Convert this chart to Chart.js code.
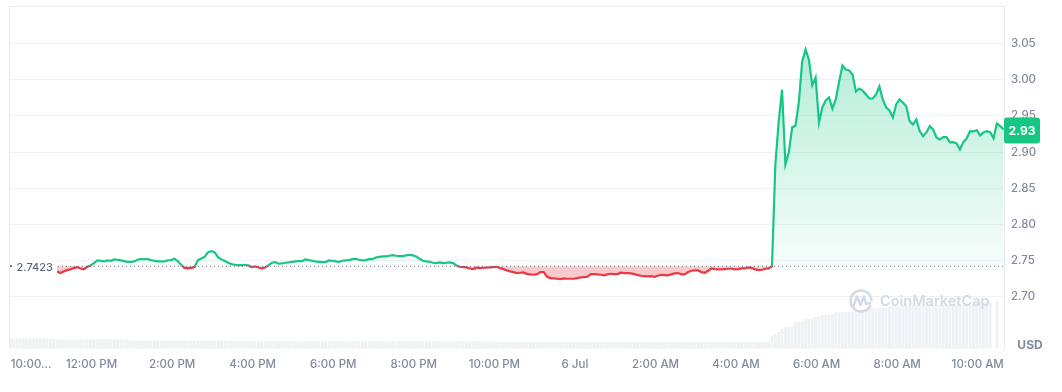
<!DOCTYPE html>
<html>
<head>
<meta charset="utf-8">
<style>html,body{margin:0;padding:0;background:#fff}#wrap{width:1062px;height:392px;position:relative}</style>
<script src="https://cdn.jsdelivr.net/npm/chart.js@4"></script>
</head>
<body>
<div id="wrap"><canvas id="c" width="1062" height="392"></canvas></div>
<script>
const tickMinutes = [30,120,240,360,480,600,720,840,960,1080,1200,1320,1440];
const tickLabels = ["10:00...","12:00 PM","2:00 PM","4:00 PM","6:00 PM","8:00 PM","10:00 PM","6 Jul","2:00 AM","4:00 AM","6:00 AM","8:00 AM","10:00 AM"];
const priceTicks = [2.70,2.75,2.80,2.85,2.90,2.95,3.00,3.05];
const baselinePrice = 2.7423;
const latestPrice = 2.93;
const priceStartMinute = 70;
const stepMinutes = 5;
const priceValues = [
2.7353,2.7330,2.7353,2.7371,2.7381,2.7399,2.7413,2.7394,2.7381,2.7417,
2.7436,2.7468,2.7505,2.7500,2.7491,2.7505,2.7500,2.7519,2.7514,2.7505,
2.7496,2.7486,2.7486,2.7491,2.7514,2.7523,2.7523,2.7523,2.7509,2.7500,
2.7491,2.7491,2.7491,2.7505,2.7509,2.7528,2.7491,2.7445,2.7399,2.7399,
2.7399,2.7417,2.7509,2.7532,2.7555,2.7620,2.7634,2.7615,2.7546,2.7519,
2.7496,2.7473,2.7454,2.7445,2.7440,2.7440,2.7445,2.7436,2.7413,2.7422,
2.7408,2.7394,
2.7408,2.7436,2.7473,2.7482,2.7459,2.7463,2.7473,2.7477,2.7486,2.7491,
2.7496,2.7496,2.7519,2.7509,2.7500,2.7491,2.7486,2.7482,2.7482,2.7505,
2.7500,2.7491,2.7486,2.7500,2.7505,2.7509,2.7523,2.7528,2.7514,2.7505,
2.7509,2.7523,2.7523,2.7546,2.7555,2.7560,2.7560,2.7569,2.7578,2.7569,
2.7565,2.7565,2.7574,2.7583,2.7574,2.7560,2.7528,2.7500,2.7491,2.7486,
2.7473,2.7468,2.7477,2.7468,2.7473,2.7477,2.7468,2.7436,2.7417,2.7413,
2.7408,2.7394,2.7385,2.7404,2.7399,2.7404,2.7404,2.7408,2.7413,2.7417,
2.7399,2.7385,2.7367,2.7353,2.7344,2.7330,2.7335,2.7339,2.7316,2.7312,
2.7307,2.7316,2.7344,2.7344,2.7279,2.7261,2.7256,2.7252,2.7247,2.7256,
2.7252,2.7252,2.7252,2.7261,2.7270,2.7275,2.7279,2.7316,2.7316,2.7312,
2.7307,2.7298,2.7312,2.7321,2.7316,2.7316,2.7335,2.7330,2.7330,2.7325,
2.7316,2.7302,2.7293,2.7289,2.7284,2.7289,2.7279,2.7293,2.7307,2.7302,
2.7298,2.7312,2.7325,2.7330,2.7312,2.7312,2.7344,2.7362,2.7367,2.7367,
2.7344,2.7335,2.7362,2.7394,2.7385,2.7381,2.7381,2.7385,2.7390,2.7390,
2.7381,2.7385,2.7394,2.7394,2.7408,2.7399,2.7381,2.7371,2.7376,2.7390,2.7394,
2.7425,2.8830,2.9424,2.9865,2.8830,2.8996,2.9340,2.9368,2.9686,3.0252,
3.0417,3.0279,2.9925,3.0031,2.9410,2.9617,2.9713,2.9755,2.9603,2.9727,
2.9976,3.0196,3.0141,3.0127,3.0072,2.9838,2.9879,2.9851,2.9796,2.9741,
2.9741,2.9796,2.9907,2.9727,2.9617,2.9575,
2.9479,2.9658,2.9727,2.9686,2.9635,2.9428,2.9382,2.9451,2.9290,2.9221,
2.9272,2.9359,2.9313,2.9203,2.9175,2.9207,2.9207,2.9134,2.9138,2.9120,
2.9037,2.9138,2.9189,2.9290,2.9286,2.9304,2.9230,2.9272,2.9290,2.9276,
2.9193,2.9396,2.9359,2.9313
];
const volumeValues = [
10.4,10.4,10.5,10.4,10.4,10.3,10.4,10.4,10.4,10.3,10.4,10.4,10.3,10.3,
9.5,9.5,9.4,9.4,9.5,9.4,9.4,9.4,9.5,9.4,9.4,9.4,9.3,9.4,9.4,9.4,9.3,9.4,9.4,9.3,9.3,9.3,
8.3,8.3,8.2,8.2,8.3,8.2,8.2,8.2,8.3,8.2,8.2,8.2,8.2,8.1,8.2,8.2,8.2,8.2,8.1,8.2,8.2,8.2,8.1,8.1,8.2,8.1,8.1,8.1,8.1,8.1,8.1,
7.5,7.5,7.5,7.4,7.5,7.4,7.4,7.5,7.4,7.4,7.4,7.4,7.5,7.4,7.4,7.4,7.4,7.4,7.4,7.5,7.4,7.4,7.4,7.4,7.4,7.4,7.3,7.4,7.4,7.4,7.4,7.4,7.4,7.3,7.4,7.4,7.4,7.4,7.3,7.4,7.4,7.4,7.3,7.4,7.4,7.3,7.4,7.4,7.3,7.4,7.4,7.4,7.3,7.3,7.4,7.4,7.3,7.3,7.4,7.3,7.3,7.4,7.3,7.3,7.3,7.3,7.3,7.3,7.3,7.3,7.3,7.2,7.3,7.3,7.2,7.2,7.3,7.2,7.2,
6.9,6.9,6.9,6.8,6.9,6.8,6.8,6.9,6.8,6.8,6.8,6.8,6.9,6.8,6.8,6.8,6.8,6.8,6.8,6.9,6.8,6.8,6.8,6.8,6.8,6.8,6.7,6.8,6.8,6.8,6.8,6.8,6.8,6.7,6.8,6.8,6.8,6.8,6.7,6.8,6.8,6.8,6.7,6.8,6.8,6.7,6.8,6.8,6.7,6.8,6.8,6.8,6.7,6.7,6.8,6.8,6.7,6.7,6.8,6.7,6.7,6.8,6.7,6.7,6.7,6.7,6.7,6.7,6.7,6.7,6.7,6.6,6.7,6.7,6.6,6.6,6.7,6.6,6.6,6.7,7.0,
12.7,14,17,20,22,22,23,26,27,28,29.7,30,30.4,31.4,33,33.7,34,34.3,34.7,36.4,36.5,36.7,37,37.2,37.5,38,38.5,39.4,39.8,40.2,40.5,40.7,41,41.2,41.5,41.9,42.3,42.7,
42.8,42.9,42.9,43,43.1,43.2,43.2,43.3,
43.5,43.5,43.6,43.7,43.8,43.8,43.9,44,
44,44,44.1,44.1,44.2,44.2,
45,46,46,46.5,47,47,
0,48
];
const GREEN = '#16c784', RED = '#ea3943', GRID = '#eff2f5', BAR = '#eff2f5', TICK = '#808a9d';
const FONT = 'Inter, "Noto Sans", sans-serif';

const priceData = priceValues.map((v,i)=>({x:priceStartMinute+i*stepMinutes,y:v}));
const volumeData = volumeValues.map((v,i)=>({x:i*stepMinutes,y:v}));

function strokeGrad(ctx){
  const c = ctx.chart, a = c.chartArea;
  if(!a) return GREEN;
  const p = c.scales.y.getPixelForValue(baselinePrice);
  const g = c.ctx.createLinearGradient(0,a.top,0,a.bottom);
  const t = (p-a.top)/(a.bottom-a.top);
  g.addColorStop(0,GREEN); g.addColorStop(t,GREEN); g.addColorStop(t,RED); g.addColorStop(1,RED);
  return g;
}
function aboveGrad(ctx){
  const c = ctx.chart, a = c.chartArea;
  if(!a) return 'rgba(22,199,132,.2)';
  const s = c.scales.y;
  const g = c.ctx.createLinearGradient(0,s.getPixelForValue(3.0417),0,s.getPixelForValue(baselinePrice));
  g.addColorStop(0,'rgba(22,199,132,.32)');
  g.addColorStop(1,'rgba(22,199,132,.03)');
  return g;
}

const decor = {
  id:'decor',
  beforeDraw(chart){
    const {ctx,chartArea:a} = chart;
    ctx.save();
    ctx.strokeStyle = '#e8eaee'; ctx.lineWidth = 1;
    ctx.beginPath();
    ctx.moveTo(Math.round(a.left)-.5,a.bottom); ctx.lineTo(Math.round(a.left)-.5,Math.round(a.top)+.5);
    ctx.lineTo(Math.round(a.right)+.5,Math.round(a.top)+.5); ctx.lineTo(Math.round(a.right)+.5,a.bottom);
    ctx.stroke();
    ctx.restore();
  },
  afterDatasetsDraw(chart){
    const {ctx,chartArea:a,scales:{y}} = chart;
    ctx.save();
    // watermark
    ctx.strokeStyle = '#d3d9e5'; ctx.lineWidth = 2.4; ctx.lineJoin='round'; ctx.lineCap='round';
    ctx.beginPath(); ctx.arc(861,301,10.5,0.15*Math.PI,1.98*Math.PI); ctx.stroke();
    ctx.beginPath(); ctx.moveTo(853.5,306); ctx.lineTo(857,296.5); ctx.lineTo(860.5,305); ctx.lineTo(864,296.5); ctx.lineTo(866,304); ctx.lineTo(870,303); ctx.stroke();
    ctx.fillStyle = '#d3d9e5'; ctx.font = '600 14.5px '+FONT; ctx.textAlign='left'; ctx.textBaseline='middle';
    ctx.fillText('CoinMarketCap',880,301.5);
    // baseline label
    const by = y.getPixelForValue(baselinePrice);
    ctx.fillStyle = '#fff'; ctx.fillRect(a.left+1,by-7.5,a.left+36,15);
    ctx.fillStyle = '#58667e'; ctx.font = '500 11px '+FONT; ctx.textAlign='left';
    ctx.fillText(baselinePrice.toFixed(4),16.5,by+1.5);
    ctx.fillStyle = '#3d5a60'; ctx.fillRect(10,by-1,2,1.5);
    // price tag
    const py = y.getPixelForValue(latestPrice);
    ctx.fillStyle = GREEN;
    ctx.beginPath(); ctx.roundRect(1004,py-13,36,26,3); ctx.fill();
    ctx.fillStyle = '#fff'; ctx.font = '700 12px '+FONT; ctx.textAlign='center';
    ctx.fillText(latestPrice.toFixed(2),1022,py+.5);
    // unit
    ctx.fillStyle = TICK; ctx.font = '700 12px '+FONT;
    ctx.fillText('USD',1030,345.5);
    ctx.restore();
  }
};

new Chart(document.getElementById('c'),{
  data:{datasets:[
    {type:'line',order:1,data:[{x:0,y:baselinePrice},{x:1480,y:baselinePrice}],borderColor:'#6b7688',borderWidth:1,borderDash:[1,3],pointRadius:0,fill:false,yAxisID:'y'},
    {type:'line',order:2,data:priceData,borderWidth:2.2,borderColor:strokeGrad,tension:0,pointRadius:0,yAxisID:'y',
      fill:{target:{value:baselinePrice},above:aboveGrad,below:'rgba(234,57,67,.27)'}},
    {type:'bar',order:3,data:volumeData,backgroundColor:BAR,barPercentage:.86,categoryPercentage:1,yAxisID:'v'}
  ]},
  options:{
    responsive:false,animation:false,
    layout:{padding:{left:10,top:6,right:0,bottom:0}},
    plugins:{legend:{display:false},tooltip:{enabled:false}},
    scales:{
      x:{type:'linear',offset:false,min:0,max:1480.6,
        afterBuildTicks(s){s.ticks=tickMinutes.map(v=>({value:v}));},
        afterFit(s){s.height=43.3;s.paddingLeft=0;s.paddingRight=0;},
        grid:{display:false},border:{display:false},
        ticks:{autoSkip:false,maxRotation:0,padding:1,labelOffset:1,color:TICK,font:{family:FONT,size:11.5,weight:'500'},
          callback(v){const i=tickMinutes.indexOf(v);return i>=0?tickLabels[i]:'';}}
      },
      y:{type:'linear',position:'right',min:2.6286,max:3.1018,
        afterBuildTicks(s){s.ticks=priceTicks.map(v=>({value:v}));},
        afterFit(s){s.width=58;s.paddingTop=0;s.paddingBottom=0;},
        grid:{color:GRID,drawTicks:false},border:{display:false},
        ticks:{padding:7,color:TICK,font:{family:FONT,size:11.5,weight:'500'},callback(v){return v.toFixed(2);}}
      },
      v:{type:'linear',display:false,min:0,max:343,position:'left'}
    }
  },
  plugins:[decor]
});
</script>
</body>
</html>
